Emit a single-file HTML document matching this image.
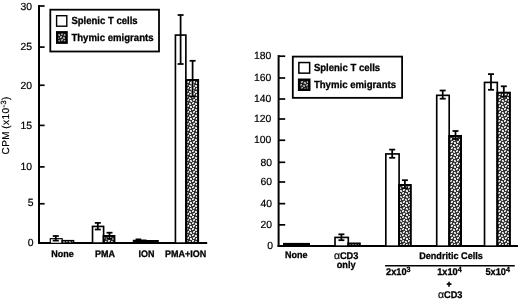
<!DOCTYPE html>
<html lang="en">
<head>
<meta charset="utf-8">
<title>Figure</title>
<style>
html,body{margin:0;padding:0;background:#fff;}
body{width:520px;height:299px;overflow:hidden;}
svg{display:block;text-rendering:geometricPrecision;font-family:'Liberation Sans', Arial, Helvetica, sans-serif;fill:#000;}
</style>
</head>
<body>
<svg width="520" height="299" viewBox="0 0 520 299">
<defs>
<pattern id="dots" width="12" height="12" patternUnits="userSpaceOnUse">
<rect width="12" height="12" fill="#000"/>
<g shape-rendering="crispEdges">
<rect x="0" y="0" width="1" height="1" fill="#d1d1d1"/>
<rect x="1" y="0" width="1" height="1" fill="#ffffff"/>
<rect x="2" y="0" width="1" height="1" fill="#2a2a2a"/>
<rect x="3" y="0" width="1" height="1" fill="#333333"/>
<rect x="4" y="0" width="1" height="1" fill="#2d2d2d"/>
<rect x="5" y="0" width="1" height="1" fill="#3f3f3f"/>
<rect x="6" y="0" width="1" height="1" fill="#9d9d9d"/>
<rect x="7" y="0" width="1" height="1" fill="#eeeeee"/>
<rect x="8" y="0" width="1" height="1" fill="#313131"/>
<rect x="9" y="0" width="1" height="1" fill="#303030"/>
<rect x="10" y="0" width="1" height="1" fill="#3b3b3b"/>
<rect x="11" y="0" width="1" height="1" fill="#2e2e2e"/>
<rect x="0" y="1" width="1" height="1" fill="#f9f9f9"/>
<rect x="1" y="1" width="1" height="1" fill="#9f9f9f"/>
<rect x="2" y="1" width="1" height="1" fill="#3a3a3a"/>
<rect x="3" y="1" width="1" height="1" fill="#e4e4e4"/>
<rect x="4" y="1" width="1" height="1" fill="#c9c9c9"/>
<rect x="5" y="1" width="1" height="1" fill="#353535"/>
<rect x="6" y="1" width="1" height="1" fill="#ebebeb"/>
<rect x="7" y="1" width="1" height="1" fill="#ababab"/>
<rect x="8" y="1" width="1" height="1" fill="#414141"/>
<rect x="9" y="1" width="1" height="1" fill="#fdfdfd"/>
<rect x="10" y="1" width="1" height="1" fill="#afafaf"/>
<rect x="11" y="1" width="1" height="1" fill="#333333"/>
<rect x="0" y="2" width="1" height="1" fill="#393939"/>
<rect x="1" y="2" width="1" height="1" fill="#363636"/>
<rect x="2" y="2" width="1" height="1" fill="#383838"/>
<rect x="3" y="2" width="1" height="1" fill="#c9c9c9"/>
<rect x="4" y="2" width="1" height="1" fill="#e8e8e8"/>
<rect x="5" y="2" width="1" height="1" fill="#282828"/>
<rect x="6" y="2" width="1" height="1" fill="#333333"/>
<rect x="7" y="2" width="1" height="1" fill="#363636"/>
<rect x="8" y="2" width="1" height="1" fill="#323232"/>
<rect x="9" y="2" width="1" height="1" fill="#b2b2b2"/>
<rect x="10" y="2" width="1" height="1" fill="#f3f3f3"/>
<rect x="11" y="2" width="1" height="1" fill="#383838"/>
<rect x="0" y="3" width="1" height="1" fill="#2d2d2d"/>
<rect x="1" y="3" width="1" height="1" fill="#bababa"/>
<rect x="2" y="3" width="1" height="1" fill="#f8f8f8"/>
<rect x="3" y="3" width="1" height="1" fill="#2f2f2f"/>
<rect x="4" y="3" width="1" height="1" fill="#2f2f2f"/>
<rect x="5" y="3" width="1" height="1" fill="#282828"/>
<rect x="6" y="3" width="1" height="1" fill="#2d2d2d"/>
<rect x="7" y="3" width="1" height="1" fill="#9b9b9b"/>
<rect x="8" y="3" width="1" height="1" fill="#efefef"/>
<rect x="9" y="3" width="1" height="1" fill="#2c2c2c"/>
<rect x="10" y="3" width="1" height="1" fill="#383838"/>
<rect x="11" y="3" width="1" height="1" fill="#383838"/>
<rect x="0" y="4" width="1" height="1" fill="#333333"/>
<rect x="1" y="4" width="1" height="1" fill="#e3e3e3"/>
<rect x="2" y="4" width="1" height="1" fill="#a5a5a5"/>
<rect x="3" y="4" width="1" height="1" fill="#393939"/>
<rect x="4" y="4" width="1" height="1" fill="#e6e6e6"/>
<rect x="5" y="4" width="1" height="1" fill="#a3a3a3"/>
<rect x="6" y="4" width="1" height="1" fill="#414141"/>
<rect x="7" y="4" width="1" height="1" fill="#f5f5f5"/>
<rect x="8" y="4" width="1" height="1" fill="#a0a0a0"/>
<rect x="9" y="4" width="1" height="1" fill="#383838"/>
<rect x="10" y="4" width="1" height="1" fill="#fcfcfc"/>
<rect x="11" y="4" width="1" height="1" fill="#bababa"/>
<rect x="0" y="5" width="1" height="1" fill="#414141"/>
<rect x="1" y="5" width="1" height="1" fill="#3a3a3a"/>
<rect x="2" y="5" width="1" height="1" fill="#333333"/>
<rect x="3" y="5" width="1" height="1" fill="#333333"/>
<rect x="4" y="5" width="1" height="1" fill="#9e9e9e"/>
<rect x="5" y="5" width="1" height="1" fill="#e4e4e4"/>
<rect x="6" y="5" width="1" height="1" fill="#404040"/>
<rect x="7" y="5" width="1" height="1" fill="#343434"/>
<rect x="8" y="5" width="1" height="1" fill="#3e3e3e"/>
<rect x="9" y="5" width="1" height="1" fill="#3f3f3f"/>
<rect x="10" y="5" width="1" height="1" fill="#aeaeae"/>
<rect x="11" y="5" width="1" height="1" fill="#e4e4e4"/>
<rect x="0" y="6" width="1" height="1" fill="#9b9b9b"/>
<rect x="1" y="6" width="1" height="1" fill="#eeeeee"/>
<rect x="2" y="6" width="1" height="1" fill="#373737"/>
<rect x="3" y="6" width="1" height="1" fill="#303030"/>
<rect x="4" y="6" width="1" height="1" fill="#373737"/>
<rect x="5" y="6" width="1" height="1" fill="#383838"/>
<rect x="6" y="6" width="1" height="1" fill="#aeaeae"/>
<rect x="7" y="6" width="1" height="1" fill="#f2f2f2"/>
<rect x="8" y="6" width="1" height="1" fill="#333333"/>
<rect x="9" y="6" width="1" height="1" fill="#3d3d3d"/>
<rect x="10" y="6" width="1" height="1" fill="#363636"/>
<rect x="11" y="6" width="1" height="1" fill="#363636"/>
<rect x="0" y="7" width="1" height="1" fill="#ffffff"/>
<rect x="1" y="7" width="1" height="1" fill="#a9a9a9"/>
<rect x="2" y="7" width="1" height="1" fill="#3f3f3f"/>
<rect x="3" y="7" width="1" height="1" fill="#ececec"/>
<rect x="4" y="7" width="1" height="1" fill="#c6c6c6"/>
<rect x="5" y="7" width="1" height="1" fill="#363636"/>
<rect x="6" y="7" width="1" height="1" fill="#ffffff"/>
<rect x="7" y="7" width="1" height="1" fill="#b7b7b7"/>
<rect x="8" y="7" width="1" height="1" fill="#2f2f2f"/>
<rect x="9" y="7" width="1" height="1" fill="#e5e5e5"/>
<rect x="10" y="7" width="1" height="1" fill="#c3c3c3"/>
<rect x="11" y="7" width="1" height="1" fill="#2d2d2d"/>
<rect x="0" y="8" width="1" height="1" fill="#3b3b3b"/>
<rect x="1" y="8" width="1" height="1" fill="#303030"/>
<rect x="2" y="8" width="1" height="1" fill="#404040"/>
<rect x="3" y="8" width="1" height="1" fill="#d9d9d9"/>
<rect x="4" y="8" width="1" height="1" fill="#e3e3e3"/>
<rect x="5" y="8" width="1" height="1" fill="#313131"/>
<rect x="6" y="8" width="1" height="1" fill="#414141"/>
<rect x="7" y="8" width="1" height="1" fill="#3e3e3e"/>
<rect x="8" y="8" width="1" height="1" fill="#383838"/>
<rect x="9" y="8" width="1" height="1" fill="#a8a8a8"/>
<rect x="10" y="8" width="1" height="1" fill="#e3e3e3"/>
<rect x="11" y="8" width="1" height="1" fill="#383838"/>
<rect x="0" y="9" width="1" height="1" fill="#3c3c3c"/>
<rect x="1" y="9" width="1" height="1" fill="#c2c2c2"/>
<rect x="2" y="9" width="1" height="1" fill="#f1f1f1"/>
<rect x="3" y="9" width="1" height="1" fill="#353535"/>
<rect x="4" y="9" width="1" height="1" fill="#313131"/>
<rect x="5" y="9" width="1" height="1" fill="#3f3f3f"/>
<rect x="6" y="9" width="1" height="1" fill="#2e2e2e"/>
<rect x="7" y="9" width="1" height="1" fill="#d4d4d4"/>
<rect x="8" y="9" width="1" height="1" fill="#fcfcfc"/>
<rect x="9" y="9" width="1" height="1" fill="#333333"/>
<rect x="10" y="9" width="1" height="1" fill="#3d3d3d"/>
<rect x="11" y="9" width="1" height="1" fill="#3b3b3b"/>
<rect x="0" y="10" width="1" height="1" fill="#2a2a2a"/>
<rect x="1" y="10" width="1" height="1" fill="#f4f4f4"/>
<rect x="2" y="10" width="1" height="1" fill="#a0a0a0"/>
<rect x="3" y="10" width="1" height="1" fill="#3f3f3f"/>
<rect x="4" y="10" width="1" height="1" fill="#ffffff"/>
<rect x="5" y="10" width="1" height="1" fill="#bcbcbc"/>
<rect x="6" y="10" width="1" height="1" fill="#3f3f3f"/>
<rect x="7" y="10" width="1" height="1" fill="#fefefe"/>
<rect x="8" y="10" width="1" height="1" fill="#ababab"/>
<rect x="9" y="10" width="1" height="1" fill="#3a3a3a"/>
<rect x="10" y="10" width="1" height="1" fill="#f3f3f3"/>
<rect x="11" y="10" width="1" height="1" fill="#cdcdcd"/>
<rect x="0" y="11" width="1" height="1" fill="#303030"/>
<rect x="1" y="11" width="1" height="1" fill="#3a3a3a"/>
<rect x="2" y="11" width="1" height="1" fill="#2f2f2f"/>
<rect x="3" y="11" width="1" height="1" fill="#3d3d3d"/>
<rect x="4" y="11" width="1" height="1" fill="#cecece"/>
<rect x="5" y="11" width="1" height="1" fill="#fefefe"/>
<rect x="6" y="11" width="1" height="1" fill="#383838"/>
<rect x="7" y="11" width="1" height="1" fill="#2c2c2c"/>
<rect x="8" y="11" width="1" height="1" fill="#303030"/>
<rect x="9" y="11" width="1" height="1" fill="#2f2f2f"/>
<rect x="10" y="11" width="1" height="1" fill="#d9d9d9"/>
<rect x="11" y="11" width="1" height="1" fill="#f3f3f3"/>
</g>
</pattern>
</defs>
<rect width="520" height="299" fill="#fff"/>
<line x1="39.0" y1="5.1" x2="39.0" y2="243.9" stroke="#000" stroke-width="2.0" />
<line x1="38.0" y1="242.9" x2="207.2" y2="242.9" stroke="#000" stroke-width="2.0" />
<line x1="39.0" y1="6.0" x2="44.6" y2="6.0" stroke="#000" stroke-width="1.7" />
<line x1="39.0" y1="47.1" x2="44.6" y2="47.1" stroke="#000" stroke-width="1.7" />
<line x1="39.0" y1="85.25" x2="44.6" y2="85.25" stroke="#000" stroke-width="1.7" />
<line x1="39.0" y1="125.4" x2="44.6" y2="125.4" stroke="#000" stroke-width="1.7" />
<line x1="39.0" y1="166.9" x2="44.6" y2="166.9" stroke="#000" stroke-width="1.7" />
<line x1="39.0" y1="203.75" x2="44.6" y2="203.75" stroke="#000" stroke-width="1.7" />
<text x="32.0" y="9.8" font-size="10.4" font-weight="normal" text-anchor="end" stroke="#000" stroke-width="0.2" >30</text>
<text x="32.0" y="49.800000000000004" font-size="10.4" font-weight="normal" text-anchor="end" stroke="#000" stroke-width="0.2" >25</text>
<text x="32.0" y="88.8" font-size="10.4" font-weight="normal" text-anchor="end" stroke="#000" stroke-width="0.2" >20</text>
<text x="32.0" y="128.7" font-size="10.4" font-weight="normal" text-anchor="end" stroke="#000" stroke-width="0.2" >15</text>
<text x="32.0" y="170.45" font-size="10.4" font-weight="normal" text-anchor="end" stroke="#000" stroke-width="0.2" >10</text>
<text x="33.5" y="206.0" font-size="10.4" font-weight="normal" text-anchor="end" stroke="#000" stroke-width="0.2" >5</text>
<text x="33.5" y="246.29999999999998" font-size="10.4" font-weight="normal" text-anchor="end" stroke="#000" stroke-width="0.2" >0</text>
<text transform="translate(9.3,154.5) rotate(-90)" font-size="10" letter-spacing="0.46" font-weight="normal" stroke="#000" stroke-width="0.2">CPM</text>
<text transform="translate(9.3,128.8) rotate(-90)" font-size="10" letter-spacing="0.46" font-weight="normal" stroke="#000" stroke-width="0.2">(x10<tspan dy="-3" font-size="7.5">-3</tspan><tspan dy="3">)</tspan></text>
<rect x="50.30" y="9.70" width="108.70" height="41.80" fill="#fff" stroke="#000" stroke-width="1.8"/>
<rect x="56.60" y="15.70" width="10.20" height="10.50" fill="#fff" stroke="#000" stroke-width="1.4"/>
<rect x="57.20" y="32.30" width="9.40" height="10.40" fill="url(#dots)" stroke="#000" stroke-width="2.4"/>
<rect x="57" y="32" width="10" height="11" fill="#000" opacity="0.28"/>
<text x="71.4" y="24.1" font-size="10.3" font-weight="bold" text-anchor="start" stroke="#000" stroke-width="0.3" textLength="66.3" lengthAdjust="spacingAndGlyphs">Splenic T cells</text>
<text x="71.4" y="41.1" font-size="10.3" font-weight="bold" text-anchor="start" stroke="#000" stroke-width="0.3" textLength="82.2" lengthAdjust="spacingAndGlyphs">Thymic emigrants</text>
<rect x="50.28" y="238.67" width="11.93" height="4.65" fill="#fff" stroke="#000" stroke-width="1.15"/>
<rect x="62.20" y="240.65" width="11.35" height="2.50" fill="url(#dots)" stroke="#000" stroke-width="1.5"/>
<line x1="55.8" y1="236.0" x2="55.8" y2="240.6" stroke="#000" stroke-width="1.75" />
<line x1="52.8" y1="236.0" x2="58.8" y2="236.0" stroke="#000" stroke-width="1.75" />
<line x1="52.8" y1="240.6" x2="58.8" y2="240.6" stroke="#000" stroke-width="1.75" />
<rect x="92.53" y="226.42" width="11.07" height="16.65" fill="#fff" stroke="#000" stroke-width="1.65"/>
<rect x="103.60" y="236.00" width="10.80" height="6.90" fill="url(#dots)" stroke="#000" stroke-width="2.0"/>
<line x1="97.8" y1="222.9" x2="97.8" y2="229.5" stroke="#000" stroke-width="1.75" />
<line x1="94.8" y1="222.9" x2="100.8" y2="222.9" stroke="#000" stroke-width="1.75" />
<line x1="94.8" y1="229.5" x2="100.8" y2="229.5" stroke="#000" stroke-width="1.75" />
<line x1="109.5" y1="236.90" x2="109.5" y2="239.50" stroke="#fff" stroke-opacity="0.55" stroke-width="3.2"/>
<line x1="109.5" y1="232.7" x2="109.5" y2="238.9" stroke="#000" stroke-width="1.75" />
<line x1="106.5" y1="232.7" x2="112.5" y2="232.7" stroke="#000" stroke-width="1.75" />
<line x1="106.5" y1="238.9" x2="112.5" y2="238.9" stroke="#000" stroke-width="1.75" />
<path d="M132.8 243 V239.8 H135.6 V238.4 H141.2 V239.6 H146.5 V240.0 H158.8 V243 Z" fill="#000"/>
<rect x="175.42" y="35.08" width="10.45" height="208.00" fill="#fff" stroke="#000" stroke-width="1.65"/>
<rect x="186.40" y="80.00" width="11.70" height="162.90" fill="url(#dots)" stroke="#000" stroke-width="2.0"/>
<line x1="180.6" y1="15.0" x2="180.6" y2="64.0" stroke="#000" stroke-width="1.75" />
<line x1="177.6" y1="15.0" x2="183.6" y2="15.0" stroke="#000" stroke-width="1.75" />
<line x1="177.6" y1="64.0" x2="183.6" y2="64.0" stroke="#000" stroke-width="1.75" />
<line x1="192.6" y1="80.90" x2="192.6" y2="97.10" stroke="#fff" stroke-opacity="0.55" stroke-width="3.2"/>
<line x1="192.6" y1="60.8" x2="192.6" y2="96.5" stroke="#000" stroke-width="1.75" />
<line x1="189.6" y1="60.8" x2="195.6" y2="60.8" stroke="#000" stroke-width="1.75" />
<line x1="189.6" y1="96.5" x2="195.6" y2="96.5" stroke="#000" stroke-width="1.75" />
<text transform="translate(62.6,256.6) scale(0.9434,1)" font-size="9.54" font-weight="bold" text-anchor="middle" stroke="#000" stroke-width="0.3" >None</text>
<text transform="translate(105,256.6) scale(0.9434,1)" font-size="9.54" font-weight="bold" text-anchor="middle" stroke="#000" stroke-width="0.3" >PMA</text>
<text transform="translate(146.5,256.6) scale(0.9434,1)" font-size="9.54" font-weight="bold" text-anchor="middle" stroke="#000" stroke-width="0.3" >ION</text>
<text transform="translate(185.6,256.6) scale(0.9434,1)" font-size="9.54" font-weight="bold" text-anchor="middle" stroke="#000" stroke-width="0.3" >PMA+ION</text>
<line x1="278.6" y1="55.1" x2="278.6" y2="247.0" stroke="#000" stroke-width="2.0" />
<line x1="277.6" y1="246.0" x2="518.0" y2="246.0" stroke="#000" stroke-width="2.0" />
<line x1="278.6" y1="56.2" x2="285.2" y2="56.2" stroke="#000" stroke-width="1.7" />
<line x1="278.6" y1="78.0" x2="285.2" y2="78.0" stroke="#000" stroke-width="1.7" />
<line x1="278.6" y1="99.0" x2="285.2" y2="99.0" stroke="#000" stroke-width="1.7" />
<line x1="278.6" y1="119.0" x2="285.2" y2="119.0" stroke="#000" stroke-width="1.7" />
<line x1="278.6" y1="140.25" x2="285.2" y2="140.25" stroke="#000" stroke-width="1.7" />
<line x1="278.6" y1="162.3" x2="285.2" y2="162.3" stroke="#000" stroke-width="1.7" />
<line x1="278.6" y1="182.0" x2="285.2" y2="182.0" stroke="#000" stroke-width="1.7" />
<line x1="278.6" y1="203.65" x2="285.2" y2="203.65" stroke="#000" stroke-width="1.7" />
<line x1="278.6" y1="224.85" x2="285.2" y2="224.85" stroke="#000" stroke-width="1.7" />
<text x="271.4" y="59.1" font-size="10.4" font-weight="normal" text-anchor="end" stroke="#000" stroke-width="0.2" >180</text>
<text x="271.4" y="80.7" font-size="10.4" font-weight="normal" text-anchor="end" stroke="#000" stroke-width="0.2" >160</text>
<text x="271.4" y="102.3" font-size="10.4" font-weight="normal" text-anchor="end" stroke="#000" stroke-width="0.2" >140</text>
<text x="271.4" y="122.2" font-size="10.4" font-weight="normal" text-anchor="end" stroke="#000" stroke-width="0.2" >120</text>
<text x="271.4" y="143.45" font-size="10.4" font-weight="normal" text-anchor="end" stroke="#000" stroke-width="0.2" >100</text>
<text x="272.0" y="165.89999999999998" font-size="10.4" font-weight="normal" text-anchor="end" stroke="#000" stroke-width="0.2" >80</text>
<text x="272.0" y="185.29999999999998" font-size="10.4" font-weight="normal" text-anchor="end" stroke="#000" stroke-width="0.2" >60</text>
<text x="272.0" y="206.95" font-size="10.4" font-weight="normal" text-anchor="end" stroke="#000" stroke-width="0.2" >40</text>
<text x="272.0" y="227.7" font-size="10.4" font-weight="normal" text-anchor="end" stroke="#000" stroke-width="0.2" >20</text>
<text x="273.1" y="248.7" font-size="10.4" font-weight="normal" text-anchor="end" stroke="#000" stroke-width="0.2" >0</text>
<rect x="292.80" y="56.60" width="109.30" height="41.25" fill="#fff" stroke="#000" stroke-width="1.8"/>
<rect x="298.85" y="62.55" width="10.80" height="10.60" fill="#fff" stroke="#000" stroke-width="1.5"/>
<rect x="299.10" y="79.70" width="10.20" height="10.10" fill="url(#dots)" stroke="#000" stroke-width="2.4"/>
<rect x="299" y="79.5" width="10.5" height="10.5" fill="#000" opacity="0.28"/>
<text x="313.9" y="70.8" font-size="10.3" font-weight="bold" text-anchor="start" stroke="#000" stroke-width="0.3" textLength="66.3" lengthAdjust="spacingAndGlyphs">Splenic T cells</text>
<text x="313.9" y="88.4" font-size="10.3" font-weight="bold" text-anchor="start" stroke="#000" stroke-width="0.3" textLength="82.2" lengthAdjust="spacingAndGlyphs">Thymic emigrants</text>
<rect x="283" y="242.9" width="27" height="3.4" fill="#000"/>
<rect x="335.02" y="237.42" width="13.28" height="8.75" fill="#fff" stroke="#000" stroke-width="1.65"/>
<rect x="348.30" y="243.50" width="11.50" height="2.50" fill="url(#dots)" stroke="#000" stroke-width="2.0"/>
<line x1="341.4" y1="234.3" x2="341.4" y2="240.2" stroke="#000" stroke-width="1.75" />
<line x1="338.4" y1="234.3" x2="344.4" y2="234.3" stroke="#000" stroke-width="1.75" />
<line x1="338.4" y1="240.2" x2="344.4" y2="240.2" stroke="#000" stroke-width="1.75" />
<rect x="385.82" y="153.92" width="13.28" height="92.25" fill="#fff" stroke="#000" stroke-width="1.65"/>
<rect x="399.10" y="185.00" width="11.70" height="61.00" fill="url(#dots)" stroke="#000" stroke-width="2.0"/>
<line x1="392.2" y1="149.6" x2="392.2" y2="157.8" stroke="#000" stroke-width="1.75" />
<line x1="389.2" y1="149.6" x2="395.2" y2="149.6" stroke="#000" stroke-width="1.75" />
<line x1="389.2" y1="157.8" x2="395.2" y2="157.8" stroke="#000" stroke-width="1.75" />
<line x1="404.9" y1="185.90" x2="404.9" y2="188.80" stroke="#fff" stroke-opacity="0.55" stroke-width="3.2"/>
<line x1="404.9" y1="180.2" x2="404.9" y2="188.2" stroke="#000" stroke-width="1.75" />
<line x1="401.9" y1="180.2" x2="407.9" y2="180.2" stroke="#000" stroke-width="1.75" />
<line x1="401.9" y1="188.2" x2="407.9" y2="188.2" stroke="#000" stroke-width="1.75" />
<rect x="436.72" y="95.33" width="12.47" height="150.85" fill="#fff" stroke="#000" stroke-width="1.65"/>
<rect x="449.20" y="136.00" width="11.80" height="110.00" fill="url(#dots)" stroke="#000" stroke-width="2.0"/>
<line x1="442.7" y1="90.5" x2="442.7" y2="98.7" stroke="#000" stroke-width="1.75" />
<line x1="439.7" y1="90.5" x2="445.7" y2="90.5" stroke="#000" stroke-width="1.75" />
<line x1="439.7" y1="98.7" x2="445.7" y2="98.7" stroke="#000" stroke-width="1.75" />
<line x1="455.5" y1="136.90" x2="455.5" y2="139.60" stroke="#fff" stroke-opacity="0.55" stroke-width="3.2"/>
<line x1="455.5" y1="131.0" x2="455.5" y2="139.0" stroke="#000" stroke-width="1.75" />
<line x1="452.5" y1="131.0" x2="458.5" y2="131.0" stroke="#000" stroke-width="1.75" />
<line x1="452.5" y1="139.0" x2="458.5" y2="139.0" stroke="#000" stroke-width="1.75" />
<rect x="484.52" y="82.42" width="12.78" height="163.75" fill="#fff" stroke="#000" stroke-width="1.65"/>
<rect x="497.30" y="92.70" width="12.60" height="153.30" fill="url(#dots)" stroke="#000" stroke-width="2.0"/>
<line x1="491.0" y1="74.1" x2="491.0" y2="89.8" stroke="#000" stroke-width="1.75" />
<line x1="488.0" y1="74.1" x2="494.0" y2="74.1" stroke="#000" stroke-width="1.75" />
<line x1="488.0" y1="89.8" x2="494.0" y2="89.8" stroke="#000" stroke-width="1.75" />
<line x1="503.8" y1="93.60" x2="503.8" y2="97.40" stroke="#fff" stroke-opacity="0.55" stroke-width="3.2"/>
<line x1="503.8" y1="86.3" x2="503.8" y2="96.8" stroke="#000" stroke-width="1.75" />
<line x1="500.8" y1="86.3" x2="506.8" y2="86.3" stroke="#000" stroke-width="1.75" />
<line x1="500.8" y1="96.8" x2="506.8" y2="96.8" stroke="#000" stroke-width="1.75" />
<text transform="translate(285.0,257.9) scale(0.9434,1)" font-size="9.54" font-weight="bold" text-anchor="start" stroke="#000" stroke-width="0.3" >None</text>
<text x="340.09999999999997" y="258.9" font-size="10.5" font-weight="normal" text-anchor="end" stroke="#000" stroke-width="0.2" >α</text>
<text transform="translate(339.9,258.9) scale(0.9434,1)" font-size="9.75" font-weight="bold" text-anchor="start" stroke="#000" stroke-width="0.3" >CD3</text>
<text transform="translate(346.2,267.6) scale(0.9434,1)" font-size="9.75" font-weight="bold" text-anchor="middle" stroke="#000" stroke-width="0.3" >only</text>
<text transform="translate(451.0,259.4) scale(0.9434,1)" font-size="9.65" font-weight="bold" text-anchor="middle" stroke="#000" stroke-width="0.3" >Dendritic Cells</text>
<line x1="385.1" y1="265.8" x2="514.8" y2="265.8" stroke="#000" stroke-width="1.5" />
<text transform="translate(398.3,275.3) scale(0.9434,1)" font-size="9.75" font-weight="bold" text-anchor="middle" stroke="#000" stroke-width="0.3" >2x10<tspan dy="-3.0" font-size="7.6">3</tspan></text>
<text transform="translate(449.4,275.3) scale(0.9434,1)" font-size="9.75" font-weight="bold" text-anchor="middle" stroke="#000" stroke-width="0.3" >1x10<tspan dy="-3.0" font-size="7.6">4</tspan></text>
<text transform="translate(497.7,275.3) scale(0.9434,1)" font-size="9.75" font-weight="bold" text-anchor="middle" stroke="#000" stroke-width="0.3" >5x10<tspan dy="-3.0" font-size="7.6">4</tspan></text>
<text transform="translate(449.1,286.9) scale(0.9434,1)" font-size="8.48" font-weight="bold" text-anchor="middle" stroke="#000" stroke-width="0.7" >+</text>
<text x="444.2" y="297.5" font-size="10.5" font-weight="normal" text-anchor="end" stroke="#000" stroke-width="0.2" >α</text>
<text transform="translate(444.0,297.5) scale(0.9434,1)" font-size="9.75" font-weight="bold" text-anchor="start" stroke="#000" stroke-width="0.3" >CD3</text>
</svg>
</body>
</html>
